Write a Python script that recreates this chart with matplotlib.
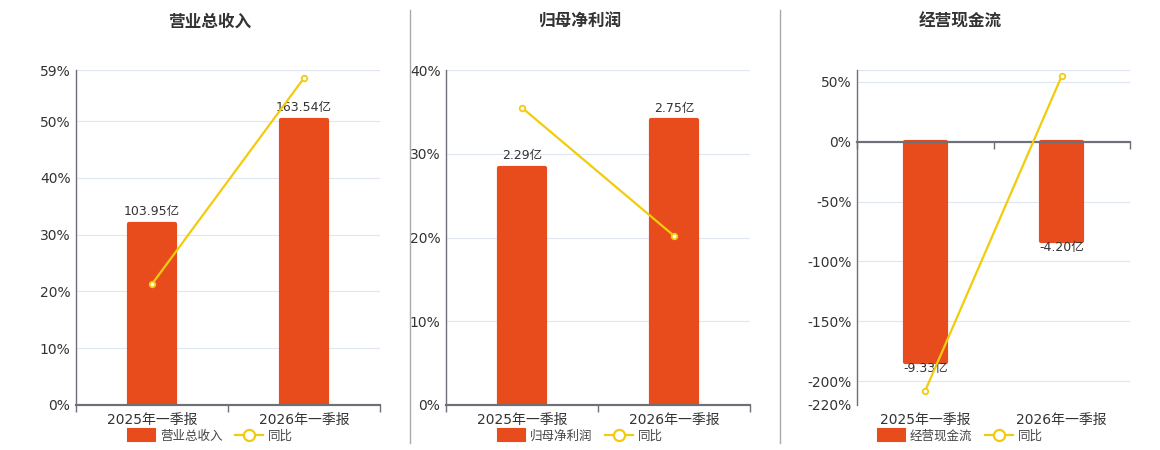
import matplotlib
matplotlib.use("Agg")
import matplotlib.pyplot as plt
from matplotlib.patches import Patch
from matplotlib.lines import Line2D
from matplotlib.transforms import blended_transform_factory

plt.rcParams['font.family'] = ['DejaVu Sans', 'Noto Sans CJK SC']

categories = ['2025年一季报', '2026年一季报']

titles = ['营业总收入', '归母净利润', '经营现金流']
bar_values = [[103.95, 163.54], [2.29, 2.75], [-9.33, -4.20]]
bar_labels = [['103.95亿', '163.54亿'], ['2.29亿', '2.75亿'], ['-9.33亿', '-4.20亿']]
yoy_values = [[21.3, 57.6], [35.5, 20.2], [-208.0, 55.0]]
pct_ticks = [[0, 10, 20, 30, 40, 50, 59], [0, 10, 20, 30, 40],
             [-220, -200, -150, -100, -50, 0, 50]]
pct_limits = [(0, 59), (0, 40), (-220, 60)]
bar_limits = [(0, 192), (0, 3.235), (-220 / 19.75, 60 / 19.75)]

BAR = '#E84B1C'
LINE = '#F2CC0C'
GRID = '#E0E6F1'
AX = '#6E7079'
TXT = '#333333'

W, H = 1160, 450
fig = plt.figure(figsize=(W / 100, H / 100), dpi=100)

axes_px = [(76, 380), (446, 750), (857, 1130)]
top_px, bot_px = 70, 405
centers = [210, 580, 960]

def fx(px):
    return px / W

def fy(py):
    return 1 - py / H

for i in range(3):
    x0, x1 = axes_px[i]
    ax = fig.add_axes([fx(x0), fy(bot_px), fx(x1) - fx(x0), (bot_px - top_px) / H])
    ax.set_xlim(-0.5, 1.5)
    ax.set_ylim(*pct_limits[i])
    ax.set_yticks(pct_ticks[i])
    ax.set_yticklabels([f'{t}%' for t in pct_ticks[i]])
    ax.tick_params(axis='y', length=0, labelsize=10, colors=TXT, pad=4)
    for t in pct_ticks[i]:
        ax.axhline(t, color=GRID, lw=0.8, zorder=0)
    ax.axhline(pct_limits[i][1], color=GRID, lw=0.8, zorder=0)
    for s in ['top', 'right']:
        ax.spines[s].set_visible(False)
    ax.spines['left'].set_color(AX)
    ax.spines['left'].set_linewidth(1)
    ax.spines['bottom'].set_color(AX)
    ax.spines['bottom'].set_linewidth(1.5)
    ax.spines['bottom'].set_position(('data', 0))
    ax.set_xticks([0, 1])
    ax.set_xticklabels([])
    ax.tick_params(axis='x', which='major', length=0)
    ax.set_xticks([-0.5, 0.5, 1.5], minor=True)
    ax.tick_params(axis='x', which='minor', length=5, color=AX, width=1)
    tr = blended_transform_factory(ax.transData, ax.transAxes)
    for j, c in enumerate(categories):
        ax.text(j, -0.025, c, transform=tr, ha='center', va='top', fontsize=10, color=TXT)

    ax2 = ax.twinx()
    ax2.set_ylim(*bar_limits[i])
    ax2.axis('off')
    ax2.bar([0, 1], bar_values[i], width=0.3, color=BAR, edgecolor=BAR,
            linewidth=3, joinstyle='round', zorder=2)
    for j, v in enumerate(bar_values[i]):
        if v >= 0:
            ax2.annotate(bar_labels[i][j], (j, v), xytext=(0, 4), textcoords='offset points',
                         ha='center', va='bottom', fontsize=9, color=TXT)
        else:
            ax2.annotate(bar_labels[i][j], (j, v), xytext=(0, 0), textcoords='offset points',
                         ha='center', va='top', fontsize=9, color=TXT)

    ax3 = ax.twinx()
    ax3.set_ylim(*pct_limits[i])
    ax3.axis('off')
    ax3.axhline(0, color=AX, lw=1.5, zorder=1, clip_on=False)
    ax3.plot([0, 1], yoy_values[i], color=LINE, lw=1.6, marker='o', markersize=4,
             markerfacecolor='white', markeredgecolor=LINE, markeredgewidth=1.3, zorder=3)

    fig.text(fx(centers[i]), fy(22), titles[i], ha='center', va='center',
             fontsize=12, fontweight='bold', color=TXT)

    handles = [Patch(facecolor=BAR, edgecolor=BAR, label=titles[i], linewidth=1.5,
                     joinstyle='round'),
               Line2D([0], [0], color=LINE, lw=1.6, marker='o', markersize=8,
                      markerfacecolor='white', markeredgecolor=LINE, markeredgewidth=1.6,
                      label='同比')]
    fig.legend(handles=handles, loc='center', bbox_to_anchor=(fx(centers[i]), fy(436)),
               ncol=2, frameon=False, fontsize=9, handlelength=2.2, handleheight=1.1,
               columnspacing=1.0, handletextpad=0.4, labelcolor='#444444')

for xp in [410, 780]:
    fig.add_artist(Line2D([fx(xp), fx(xp)], [fy(443), fy(10)], color='#AAAAAA', lw=1))

fig.savefig('out.png', dpi=100)
